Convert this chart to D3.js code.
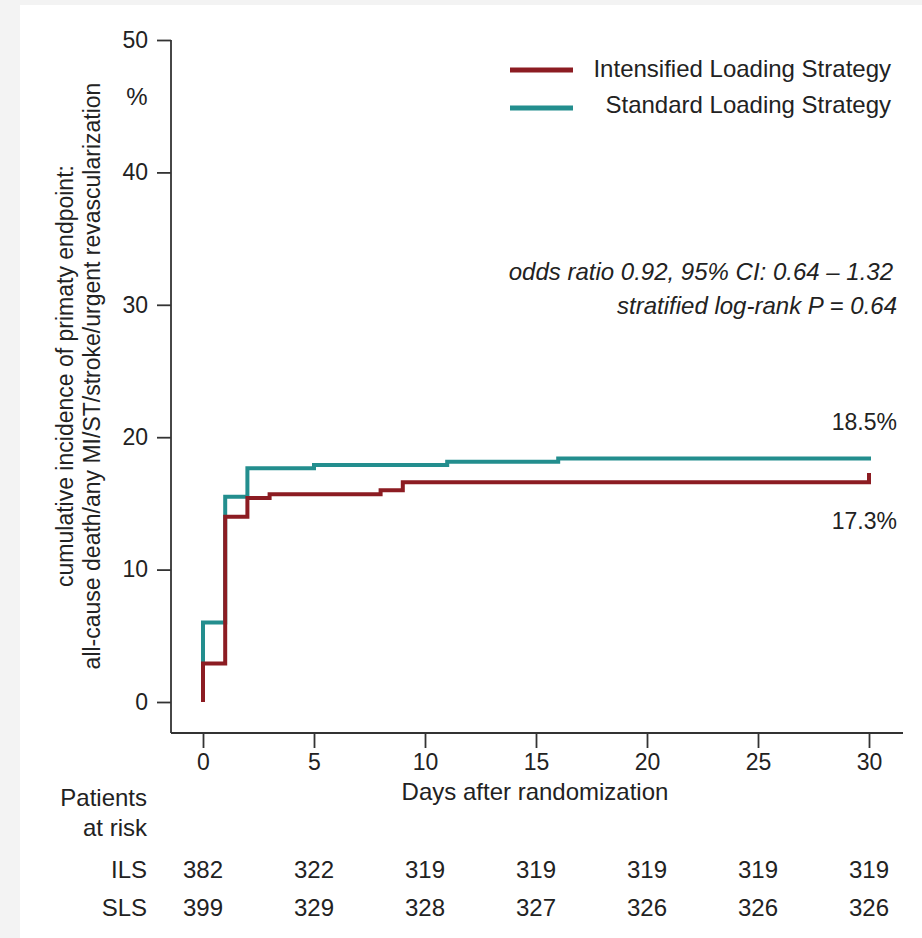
<!DOCTYPE html>
<html>
<head>
<meta charset="utf-8">
<script src="https://cdn.jsdelivr.net/npm/d3@7"></script>
<style>
  html, body { margin: 0; padding: 0; background: #f3f3f3; }
  svg { display: block; }
  text { font-family: "Liberation Sans", Arial, sans-serif; fill: #222; }
</style>
</head>
<body>
<svg id="chart" width="922" height="938"></svg>
<script>
// ---- data ----
const ilsDays   = [0, 0, 1, 2, 3, 8, 9, 30];
const ilsValues = [0, 2.9, 14.0, 15.4, 15.7, 16.0, 16.6, 17.3];
const slsDays   = [0, 0, 1, 2, 5, 11, 16, 30];
const slsValues = [0, 6.0, 15.5, 17.65, 17.9, 18.15, 18.4, 18.55];
const xTicks = [0, 5, 10, 15, 20, 25, 30];
const yTicks = [0, 10, 20, 30, 40, 50];
const riskILS = [382, 322, 319, 319, 319, 319, 319];
const riskSLS = [399, 329, 328, 327, 326, 326, 326];
const seriesNames = ["Intensified Loading Strategy", "Standard Loading Strategy"];
const endLabels = ["17.3%", "18.5%"];

const RED = "#8c1c22", TEAL = "#238e8e", AX = "#333";

const svg = d3.select("#chart");
// white panel
svg.append("rect").attr("x", 20).attr("y", 5).attr("width", 902).attr("height", 933).attr("fill", "#fff");

const x = d3.scaleLinear().domain([0, 30]).range([203, 869]);
const y = d3.scaleLinear().domain([0, 50]).range([702, 40]);
const axisX0 = 171, axisY0 = 733;

// y axis
const gy = svg.append("g").attr("transform", `translate(${axisX0},0)`)
  .call(d3.axisLeft(y).tickValues(yTicks).tickSize(14).tickPadding(9).tickSizeOuter(0));
gy.select(".domain").remove();
gy.selectAll(".tick line").attr("stroke", AX).attr("stroke-width", 1.8);
gy.selectAll(".tick text").style("font-size", "23px").attr("fill", "#222");
svg.append("line").attr("x1", axisX0).attr("x2", axisX0).attr("y1", y(50)).attr("y2", axisY0)
  .attr("stroke", AX).attr("stroke-width", 1.8);

// x axis
const gx = svg.append("g").attr("transform", `translate(0,${axisY0})`)
  .call(d3.axisBottom(x).tickValues(xTicks).tickSize(15).tickPadding(6).tickSizeOuter(0));
gx.select(".domain").remove();
gx.selectAll(".tick line").attr("stroke", AX).attr("stroke-width", 1.8);
gx.selectAll(".tick text").style("font-size", "23px").attr("fill", "#222");
svg.append("line").attr("x1", axisX0).attr("x2", 903).attr("y1", axisY0).attr("y2", axisY0)
  .attr("stroke", AX).attr("stroke-width", 1.8);

// "%" unit
svg.append("text").attr("x", 137).attr("y", 105).attr("text-anchor", "middle")
  .style("font-size", "24px").text("%");

// axis titles
svg.append("text").attr("x", 535).attr("y", 800).attr("text-anchor", "middle")
  .style("font-size", "24px").text("Days after randomization");
const yl = svg.append("g").attr("transform", "translate(0,376) rotate(-90)");
yl.append("text").attr("x", 0).attr("y", 73).attr("text-anchor", "middle")
  .style("font-size", "23px").text("cumulative incidence of primaty endpoint:");
yl.append("text").attr("x", 0).attr("y", 100).attr("text-anchor", "middle")
  .style("font-size", "23px").text("all-cause death/any MI/ST/stroke/urgent revascularization");

// curves
const line = d3.line().x(d => x(d[0])).y(d => y(d[1])).curve(d3.curveStepAfter);
const slsPts = slsDays.map((d, i) => [d, slsValues[i]]);
const ilsPts = ilsDays.map((d, i) => [d, ilsValues[i]]);
svg.append("path").attr("d", line(slsPts)).attr("fill", "none").attr("stroke", TEAL).attr("stroke-width", 4);
svg.append("path").attr("d", line(ilsPts)).attr("fill", "none").attr("stroke", RED).attr("stroke-width", 4);

// legend
const legY = [70, 108], legText = [69, 105];
[RED, TEAL].forEach((c, i) => {
  svg.append("line").attr("x1", 510).attr("x2", 573).attr("y1", legY[i]).attr("y2", legY[i])
    .attr("stroke", c).attr("stroke-width", 5);
  svg.append("text").attr("x", 891).attr("y", legText[i]).attr("dy", "0.35em").attr("text-anchor", "end")
    .style("font-size", "24px").text(seriesNames[i]);
});

// annotations
svg.append("text").attr("x", 893).attr("y", 272).attr("dy", "0.35em").attr("text-anchor", "end")
  .style("font-size", "24px").style("font-style", "italic").text("odds ratio 0.92, 95% CI: 0.64 \u2013 1.32");
svg.append("text").attr("x", 897).attr("y", 306).attr("dy", "0.35em").attr("text-anchor", "end")
  .style("font-size", "24px").style("font-style", "italic").text("stratified log-rank P = 0.64");

svg.append("text").attr("x", 897).attr("y", 422).attr("dy", "0.35em").attr("text-anchor", "end")
  .style("font-size", "23px").text(endLabels[1]);
svg.append("text").attr("x", 897).attr("y", 521).attr("dy", "0.35em").attr("text-anchor", "end")
  .style("font-size", "23px").text(endLabels[0]);

// risk table
svg.append("text").attr("x", 147).attr("y", 798).attr("dy", "0.35em").attr("text-anchor", "end")
  .style("font-size", "24px").text("Patients");
svg.append("text").attr("x", 147).attr("y", 828).attr("dy", "0.35em").attr("text-anchor", "end")
  .style("font-size", "24px").text("at risk");
[["ILS", riskILS, 870], ["SLS", riskSLS, 908]].forEach(([lab, vals, yy]) => {
  svg.append("text").attr("x", 147).attr("y", yy).attr("dy", "0.35em").attr("text-anchor", "end")
    .style("font-size", "24px").text(lab);
  svg.selectAll(null).data(vals).enter().append("text")
    .attr("x", (d, i) => x(xTicks[i])).attr("y", yy).attr("dy", "0.35em").attr("text-anchor", "middle")
    .style("font-size", "24px").text(d => d);
});
</script>
</body>
</html>
